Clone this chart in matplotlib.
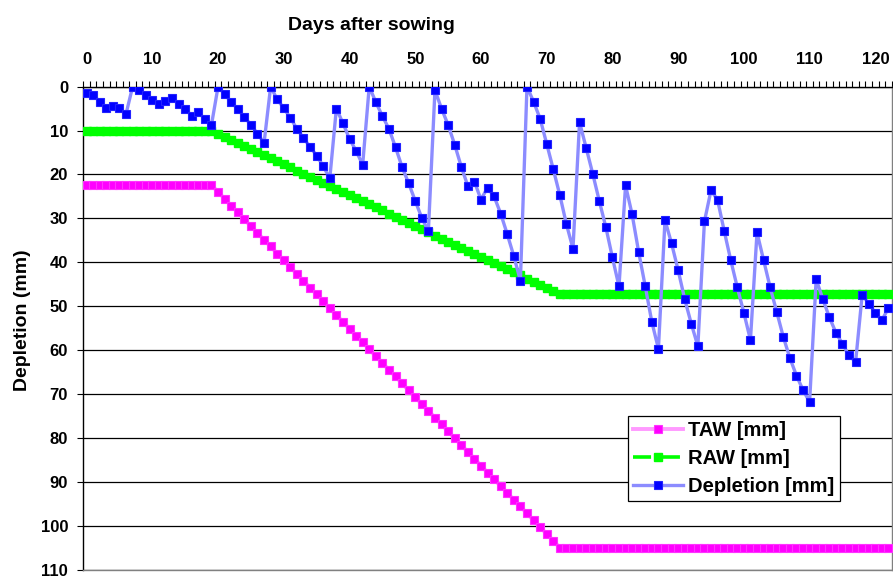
import matplotlib
matplotlib.use("Agg")
import matplotlib.pyplot as plt
import numpy as np

plt.rcParams["font.family"] = ["Liberation Sans", "DejaVu Sans"]
plt.rcParams["font.weight"] = "bold"

# ── data (mm, day 0 .. 122) ─────────────────────────────────────────────────
days = list(range(123))

taw = [
    22.4, 22.4, 22.4, 22.4, 22.4, 22.4, 22.4, 22.4, 22.4, 22.4,
    22.4, 22.4, 22.4, 22.4, 22.4, 22.4, 22.4, 22.4, 22.4, 22.4,
    24.0, 25.5, 27.1, 28.6, 30.2, 31.8, 33.3, 34.9, 36.4, 38.0,
    39.5, 41.1, 42.7, 44.2, 45.8, 47.3, 48.9, 50.5, 52.0, 53.6,
    55.1, 56.7, 58.2, 59.8, 61.4, 62.9, 64.5, 66.0, 67.6, 69.2,
    70.7, 72.3, 73.8, 75.4, 76.9, 78.5, 80.1, 81.6, 83.2, 84.7,
    86.3, 87.9, 89.4, 91.0, 92.5, 94.1, 95.6, 97.2, 98.8, 100.3,
    101.9, 103.4, 105.0, 105.0, 105.0, 105.0, 105.0, 105.0, 105.0, 105.0,
    105.0, 105.0, 105.0, 105.0, 105.0, 105.0, 105.0, 105.0, 105.0, 105.0,
    105.0, 105.0, 105.0, 105.0, 105.0, 105.0, 105.0, 105.0, 105.0, 105.0,
    105.0, 105.0, 105.0, 105.0, 105.0, 105.0, 105.0, 105.0, 105.0, 105.0,
    105.0, 105.0, 105.0, 105.0, 105.0, 105.0, 105.0, 105.0, 105.0, 105.0,
    105.0, 105.0, 105.0,
]

raw = [
    10.0, 10.0, 10.0, 10.0, 10.0, 10.0, 10.0, 10.0, 10.0, 10.0,
    10.0, 10.0, 10.0, 10.0, 10.0, 10.0, 10.0, 10.0, 10.0, 10.0,
    10.7, 11.4, 12.1, 12.8, 13.5, 14.2, 14.9, 15.6, 16.3, 17.0,
    17.7, 18.4, 19.1, 19.8, 20.5, 21.2, 21.9, 22.6, 23.3, 24.0,
    24.7, 25.4, 26.1, 26.8, 27.5, 28.2, 29.0, 29.7, 30.4, 31.1,
    31.8, 32.5, 33.2, 33.9, 34.6, 35.3, 36.0, 36.7, 37.4, 38.1,
    38.8, 39.5, 40.2, 40.9, 41.6, 42.3, 43.0, 43.7, 44.4, 45.1,
    45.8, 46.5, 47.2, 47.2, 47.2, 47.2, 47.2, 47.2, 47.2, 47.2,
    47.2, 47.2, 47.2, 47.2, 47.2, 47.2, 47.2, 47.2, 47.2, 47.2,
    47.2, 47.2, 47.2, 47.2, 47.2, 47.2, 47.2, 47.2, 47.2, 47.2,
    47.2, 47.2, 47.2, 47.2, 47.2, 47.2, 47.2, 47.2, 47.2, 47.2,
    47.2, 47.2, 47.2, 47.2, 47.2, 47.2, 47.2, 47.2, 47.2, 47.2,
    47.2, 47.2, 47.2,
]

depletion = [
    1.5, 1.9, 3.4, 4.9, 4.4, 4.9, 6.2, 0.0, 0.8, 1.9,
    3.0, 3.9, 3.2, 2.6, 3.9, 5.1, 6.6, 5.8, 7.4, 8.7,
    0.0, 1.7, 3.5, 5.1, 6.9, 8.7, 10.7, 12.8, 0.0, 2.9,
    4.9, 7.1, 9.6, 11.7, 13.7, 15.7, 18.1, 20.9, 5.0, 8.3,
    11.9, 14.6, 17.8, 0.0, 3.5, 6.7, 9.6, 13.8, 18.3, 22.0,
    26.0, 29.9, 32.9, 0.8, 5.0, 8.7, 13.2, 18.2, 22.6, 21.6,
    25.7, 23.0, 25.0, 28.9, 33.6, 38.6, 44.2, 0.0, 3.4, 7.3,
    13.0, 18.8, 24.7, 31.3, 36.9, 8.1, 13.9, 19.8, 26.0, 32.0,
    38.9, 45.5, 22.5, 29.1, 37.7, 45.5, 53.6, 59.7, 30.4, 35.7,
    41.8, 48.4, 54.0, 59.1, 30.7, 23.6, 25.8, 32.8, 39.5, 45.7,
    51.5, 57.7, 33.2, 39.5, 45.7, 51.3, 57.0, 61.8, 65.8, 69.1,
    71.8, 43.9, 48.3, 52.5, 56.0, 58.6, 61.2, 62.7, 47.4, 49.4,
    51.5, 53.2, 50.4,
]

x_labels = list(range(0, 121, 10))
y_ticks = list(range(0, 111, 10))

# ── figure ──────────────────────────────────────────────────────────────────
fig = plt.figure(figsize=(8.93, 5.76), dpi=100)
ax = fig.add_axes([0.0933, 0.0111, 0.9053, 0.8384])

ax.plot(days, taw, color="#ff99ff", linewidth=2.8,
        marker="s", markersize=6.2, markerfacecolor="#ff00ff",
        markeredgecolor="#ff33ff", markeredgewidth=0.8,
        label="TAW [mm]", zorder=3)
ax.plot(days, raw, color="#00ff00", linewidth=2.6, linestyle=(0, (5, 3)),
        marker="s", markersize=5.8, markerfacecolor="#00ff00",
        markeredgecolor="#00ff00", label="RAW [mm]", zorder=4)
ax.plot(days, depletion, color="#8c8cff", linewidth=2.4,
        marker="s", markersize=5.6, markerfacecolor="#0000ff",
        markeredgecolor="#2222ff", markeredgewidth=0.8,
        label="Depletion [mm]", zorder=5)

ax.set_xlim(-0.5, 122.5)
ax.set_ylim(110, 0)

# x axis on top, Excel-style category ticks between days
ax.xaxis.tick_top()
ax.set_xticks(x_labels)
ax.set_xticks(np.arange(-0.5, 123, 1), minor=True)
ax.tick_params(axis="x", which="major", length=0, pad=14, labelsize=12)
ax.tick_params(axis="x", which="minor", length=4, width=0.8, direction="out",
               top=True, bottom=False)

ax.set_yticks(y_ticks)
ax.tick_params(axis="y", which="major", length=4.5, width=0.8, pad=6.5,
               labelsize=12)

ax.yaxis.grid(True, color="black", linewidth=0.9)
ax.set_axisbelow(True)

ax.spines["top"].set_color("black")
ax.spines["left"].set_color("black")
ax.spines["right"].set_color("#808080")
ax.spines["bottom"].set_color("#808080")
for s in ax.spines.values():
    s.set_linewidth(1.0)

fig.text(371 / 893, 1 - 30.5 / 576, "Days after sowing", ha="center",
         va="baseline", fontsize=14, fontweight="bold")
fig.text(22.5 / 893, 1 - 320 / 576, "Depletion (mm)", ha="center",
         va="center", rotation=90, fontsize=14, fontweight="bold")

leg = ax.legend(loc="upper left", bbox_to_anchor=(628 / 893, 1 - 416 / 576),
                bbox_transform=fig.transFigure, fontsize=14.5, frameon=True,
                fancybox=False, framealpha=1, edgecolor="black",
                borderaxespad=0, borderpad=0.25, labelspacing=0.45,
                handlelength=2.5, handletextpad=0.25)
leg.get_frame().set_linewidth(0.9)
leg.set_zorder(10)

fig.savefig("out.png", dpi=100)
